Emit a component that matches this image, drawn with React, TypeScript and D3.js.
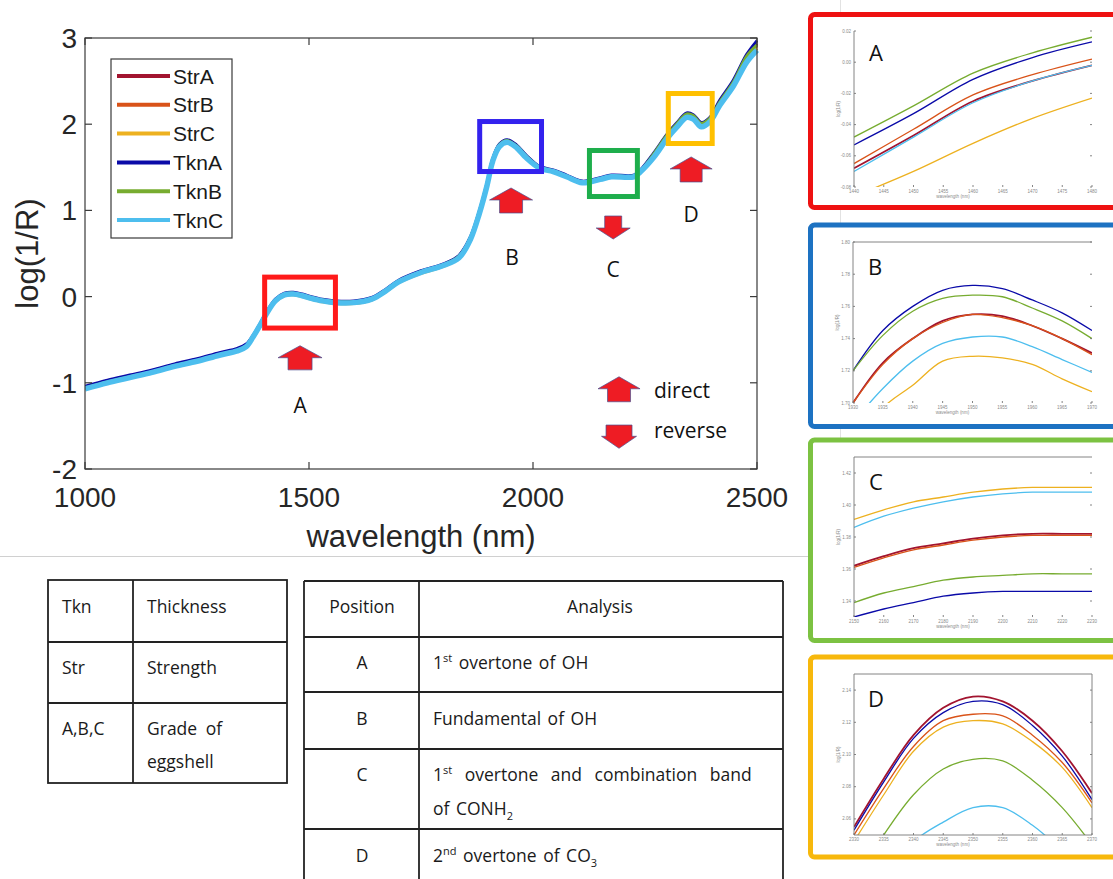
import React from "react";
import * as d3 from "d3";

// ---- main NIR spectra (log(1/R) versus wavelength) ----
const wavelengths = [
  1000, 1050, 1100, 1150, 1200, 1250, 1300, 1340, 1360, 1375, 1390, 1405, 1425, 1445, 1465, 1485,
  1505, 1530, 1560, 1600, 1640, 1670, 1700, 1750, 1800, 1835, 1860, 1880, 1897, 1910, 1925, 1942,
  1963, 1985, 2015, 2045, 2075, 2110, 2150, 2175, 2225, 2240, 2270, 2300, 2320, 2343, 2358, 2376,
  2395, 2417, 2447, 2477, 2500,
];

const strA = [
  -1.05, -0.98, -0.92, -0.86, -0.79, -0.73, -0.66, -0.61, -0.56, -0.46, -0.33, -0.19, -0.04, 0.03, 0.04, 0.02,
  -0.01, -0.04, -0.06, -0.06, -0.02, 0.07, 0.18, 0.29, 0.37, 0.47, 0.68, 0.98, 1.3, 1.59, 1.76, 1.81,
  1.75, 1.63, 1.5, 1.46, 1.4, 1.33, 1.37, 1.4, 1.4, 1.46, 1.65, 1.87, 1.99, 2.11, 2.09, 2.0,
  2.06, 2.25, 2.48, 2.77, 2.93,
];
const strB = [
  -1.05, -0.98, -0.92, -0.86, -0.79, -0.73, -0.66, -0.61, -0.56, -0.47, -0.34, -0.2, -0.05, 0.02, 0.03, 0.01,
  -0.02, -0.05, -0.07, -0.07, -0.03, 0.06, 0.17, 0.28, 0.36, 0.46, 0.67, 0.97, 1.29, 1.58, 1.75, 1.8,
  1.74, 1.62, 1.49, 1.45, 1.39, 1.32, 1.36, 1.39, 1.39, 1.45, 1.64, 1.86, 1.98, 2.1, 2.08, 1.99,
  2.05, 2.24, 2.47, 2.76, 2.91,
];
const strC = [
  -1.06, -0.99, -0.93, -0.87, -0.8, -0.74, -0.67, -0.62, -0.57, -0.48, -0.35, -0.21, -0.06, 0.01, 0.02, 0.0,
  -0.03, -0.06, -0.08, -0.08, -0.04, 0.05, 0.16, 0.27, 0.35, 0.45, 0.66, 0.96, 1.28, 1.57, 1.74, 1.79,
  1.73, 1.61, 1.5, 1.46, 1.4, 1.33, 1.37, 1.4, 1.4, 1.46, 1.63, 1.85, 1.97, 2.09, 2.07, 1.98,
  2.04, 2.23, 2.45, 2.74, 2.88,
];
const tknA = [
  -1.04, -0.97, -0.91, -0.85, -0.78, -0.72, -0.65, -0.6, -0.55, -0.45, -0.32, -0.18, -0.03, 0.04, 0.05, 0.03,
  0.0, -0.03, -0.05, -0.05, -0.01, 0.08, 0.19, 0.3, 0.38, 0.48, 0.69, 0.99, 1.31, 1.6, 1.77, 1.82,
  1.76, 1.64, 1.51, 1.47, 1.41, 1.34, 1.38, 1.41, 1.41, 1.47, 1.67, 1.89, 2.01, 2.13, 2.11, 2.02,
  2.08, 2.28, 2.51, 2.81, 2.97,
];
const tknB = [
  -1.06, -0.99, -0.93, -0.87, -0.8, -0.74, -0.67, -0.62, -0.57, -0.46, -0.33, -0.19, -0.04, 0.03, 0.04, 0.02,
  -0.01, -0.04, -0.06, -0.06, -0.02, 0.07, 0.18, 0.29, 0.37, 0.47, 0.68, 0.98, 1.3, 1.59, 1.76, 1.81,
  1.75, 1.63, 1.5, 1.46, 1.4, 1.33, 1.37, 1.4, 1.4, 1.46, 1.66, 1.88, 2.0, 2.12, 2.1, 2.01,
  2.07, 2.26, 2.49, 2.79, 2.92,
];
const tknC = [
  -1.07, -1.0, -0.94, -0.88, -0.81, -0.75, -0.68, -0.63, -0.58, -0.47, -0.34, -0.2, -0.05, 0.02, 0.03, 0.01,
  -0.02, -0.05, -0.07, -0.07, -0.03, 0.06, 0.17, 0.28, 0.36, 0.45, 0.66, 0.96, 1.28, 1.57, 1.74, 1.79,
  1.73, 1.61, 1.49, 1.45, 1.39, 1.32, 1.36, 1.39, 1.39, 1.45, 1.62, 1.84, 1.96, 2.08, 2.06, 1.97,
  2.03, 2.22, 2.44, 2.72, 2.86,
];

const seriesNames = ["StrA", "StrB", "StrC", "TknA", "TknB", "TknC"];
const seriesColors = ["#a2142f", "#d95319", "#edb120", "#0a0aa8", "#77ac30", "#4dbeee"];
const seriesValues = [strA, strB, strC, tknA, tknB, tknC];

const xTicks = [1000, 1500, 2000, 2500];
const yTicks = [-2, -1, 0, 1, 2, 3];

// ---- zoomed band views (A-D) ----
const insetAWave = [1440, 1450, 1460, 1470, 1480];
const insetAValues = [
  [-0.068, -0.047, -0.025, -0.012, -0.002],
  [-0.065, -0.043, -0.021, -0.008, 0.002],
  [-0.086, -0.07, -0.052, -0.036, -0.023],
  [-0.053, -0.033, -0.011, 0.003, 0.013],
  [-0.048, -0.028, -0.007, 0.006, 0.016],
  [-0.07, -0.048, -0.026, -0.012, -0.002],
];
const insetBWave = [1930, 1935, 1940, 1945, 1950, 1955, 1960, 1965, 1970];
const insetBValues = [
  [1.7, 1.725, 1.74, 1.751, 1.755, 1.754, 1.748, 1.74, 1.731],
  [1.7, 1.724, 1.74, 1.75, 1.755, 1.753, 1.748, 1.74, 1.73],
  [1.67, 1.697, 1.711, 1.726, 1.729, 1.728, 1.724, 1.715, 1.707],
  [1.72, 1.745, 1.76, 1.77, 1.773, 1.771, 1.764, 1.756, 1.745],
  [1.72, 1.742, 1.757, 1.765, 1.767, 1.766, 1.759, 1.751, 1.74],
  [1.688, 1.709, 1.726, 1.737, 1.741, 1.741, 1.735, 1.727, 1.719],
];
const insetCWave = [2150, 2160, 2170, 2180, 2190, 2200, 2210, 2220, 2230];
const insetCValues = [
  [1.362, 1.368, 1.373, 1.376, 1.379, 1.381, 1.382, 1.382, 1.382],
  [1.361, 1.367, 1.372, 1.375, 1.378, 1.38, 1.381, 1.381, 1.381],
  [1.391, 1.397, 1.402, 1.405, 1.408, 1.41, 1.411, 1.411, 1.411],
  [1.33, 1.335, 1.339, 1.343, 1.345, 1.346, 1.346, 1.346, 1.346],
  [1.339, 1.345, 1.349, 1.353, 1.355, 1.356, 1.357, 1.357, 1.357],
  [1.386, 1.393, 1.398, 1.402, 1.405, 1.407, 1.408, 1.408, 1.408],
];
const insetDWave = [2330, 2335, 2340, 2345, 2350, 2355, 2360, 2365, 2370];
const insetDValues = [
  [2.055, 2.085, 2.112, 2.129, 2.136, 2.133, 2.121, 2.102, 2.076],
  [2.05, 2.079, 2.105, 2.121, 2.125, 2.124, 2.112, 2.095, 2.07],
  [2.046, 2.075, 2.102, 2.117, 2.121, 2.119, 2.108, 2.092, 2.067],
  [2.053, 2.083, 2.11, 2.126, 2.133, 2.131, 2.118, 2.099, 2.072],
  [2.02, 2.05, 2.075, 2.091, 2.097, 2.096, 2.084, 2.067, 2.044],
  [2.0, 2.025, 2.046, 2.058, 2.067, 2.067, 2.056, 2.04, 2.02],
];
const insetLetters = ["A", "B", "C", "D"];
const insetBorderColors = ["#ee1111", "#1d72c2", "#7cc242", "#f7b80c"];

// band boxes on the main spectrum: [wl0, wl1, v0, v1]
const bandBoxes = [
  [1401, 1559, 0.226, -0.365],
  [1881, 2019, 2.031, 1.451],
  [2126, 2233, 1.695, 1.161],
  [2302, 2400, 2.356, 1.776],
];
const bandBoxColors = ["#ff1a1a", "#3322ee", "#1eae4c", "#ffc000"];

// ---- tables ----
const termRows = [
  ["Tkn", "Thickness"],
  ["Str", "Strength"],
  ["A,B,C", "Grade of", "eggshell"],
];
const positionLabels = ["A", "B", "C", "D"];

const W = 1113;
const H = 879;
const FONT_AXIS = "'Liberation Sans', Arial, Helvetica, sans-serif";
const FONT_NOTE = "'Open Sans', 'Noto Sans', sans-serif";

function arrowPath(cx: number, top: number, bottom: number, headW: number, shaftW: number, headH: number, up: boolean) {
  if (up) {
    const hb = top + headH;
    return `M${cx},${top}L${cx + headW / 2},${hb}L${cx + shaftW / 2},${hb}L${cx + shaftW / 2},${bottom}L${cx - shaftW / 2},${bottom}L${cx - shaftW / 2},${hb}L${cx - headW / 2},${hb}Z`;
  }
  const hb = bottom - headH;
  return `M${cx},${bottom}L${cx + headW / 2},${hb}L${cx + shaftW / 2},${hb}L${cx + shaftW / 2},${top}L${cx - shaftW / 2},${top}L${cx - shaftW / 2},${hb}L${cx - headW / 2},${hb}Z`;
}

type InsetProps = {
  idx: number;
  waves: number[];
  values: number[][];
  domain: [number, number];
  frame: { left: number; right: number; top: number; bottom: number };
  box: { x: number; y: number; h: number };
  sides: string;
};

function Inset({ idx, waves, values, domain, frame, box, sides }: InsetProps) {
  const x = d3.scaleLinear().domain(d3.extent(waves) as [number, number]).range([frame.left, frame.right]);
  const y = d3.scaleLinear().domain(domain).range([frame.bottom, frame.top]);
  const line = d3
    .line<number>()
    .x((_, i) => x(waves[i]))
    .y((d) => y(d))
    .curve(d3.curveCatmullRom.alpha(0.5));
  const clipId = `inset-clip-${idx}`;
  const yt = y.ticks(6);
  const xt = x.ticks(8);
  return (
    <g>
      <rect x={box.x} y={box.y} width={W - box.x + 10} height={box.h} rx={4} fill="#ffffff"
        stroke={insetBorderColors[idx]} strokeWidth={5} />
      <defs>
        <clipPath id={clipId}>
          <rect x={frame.left} y={frame.top} width={frame.right - frame.left} height={frame.bottom - frame.top} />
        </clipPath>
      </defs>
      <g clipPath={`url(#${clipId})`}>
        {values.map((vals, s) => (
          <path key={s} d={line(vals) || ""} fill="none" stroke={seriesColors[s]}
            strokeWidth={s === 0 ? 1.8 : 1.3} />
        ))}
      </g>
      <g stroke="#777" strokeWidth={0.9} fill="none">
        {sides.includes("l") && <line x1={frame.left} x2={frame.left} y1={frame.top} y2={frame.bottom} />}
        {sides.includes("t") && <line x1={frame.left} x2={frame.right} y1={frame.top} y2={frame.top} />}
        {sides.includes("r") && <line x1={frame.right} x2={frame.right} y1={frame.top} y2={frame.bottom} />}
        {sides.includes("b") && <line x1={frame.left} x2={frame.right} y1={frame.bottom} y2={frame.bottom} />}
        {yt.map((t) => (
          <line key={`yl${t}`} x1={frame.left} x2={frame.left + 2} y1={y(t)} y2={y(t)} />
        ))}
        {yt.map((t) => (
          <line key={`yr${t}`} x1={frame.right - 2} x2={frame.right} y1={y(t)} y2={y(t)} />
        ))}
        {xt.map((t) => (
          <line key={`xb${t}`} x1={x(t)} x2={x(t)} y1={frame.bottom - 2} y2={frame.bottom} />
        ))}
      </g>
      <g fill="#8a8a8a" fontFamily={FONT_AXIS} fontSize={4.5}>
        {yt.map((t) => (
          <text key={`ytl${t}`} x={frame.left - 3} y={y(t) + 1.5} textAnchor="end">
            {t.toFixed(2)}
          </text>
        ))}
        {xt.map((t) => (
          <text key={`xtl${t}`} x={x(t)} y={frame.bottom + 6} textAnchor="middle">
            {t}
          </text>
        ))}
        <text x={(frame.left + frame.right) / 2 - 20} y={frame.bottom + 11} textAnchor="middle">
          wavelength (nm)
        </text>
        <text transform={`translate(${frame.left - 14},${(frame.top + frame.bottom) / 2}) rotate(-90)`} textAnchor="middle">
          log(1/R)
        </text>
      </g>
      <text x={frame.left + 22} y={frame.top + (idx === 0 ? 30 : 33)} textAnchor="middle"
        fontFamily={FONT_NOTE} fontSize={22} fill="#111">
        {insetLetters[idx]}
      </text>
    </g>
  );
}

export default function App() {
  const x = d3.scaleLinear().domain([1000, 2500]).range([85, 757]);
  const y = d3.scaleLinear().domain([-2, 3]).range([469, 38]);
  const line = d3
    .line<number>()
    .x((_, i) => x(wavelengths[i]))
    .y((d) => y(d))
    .curve(d3.curveCatmullRom.alpha(0.5));

  const [x0, x1] = x.range();
  const [y0, y1] = y.range();
  const axisColor = "#3a3a3a";

  const legendRowY = (i: number) => 76 + i * 28.8;

  return (
    <svg width={W} height={H} viewBox={`0 0 ${W} ${H}`}
      style={{ position: "absolute", left: 0, top: 0, background: "#ffffff" }}>
      <rect x={0} y={0} width={W} height={H} fill="#ffffff" />

      {/* slide separator lines */}
      <line x1={0} x2={843} y1={556.5} y2={556.5} stroke="#d0d0d0" strokeWidth={1.2} />
      <line x1={840.5} x2={840.5} y1={0} y2={556} stroke="#e2e2e2" strokeWidth={1} />

      {/* main spectrum */}
      <defs>
        <clipPath id="main-clip">
          <rect x={x0} y={y1 - 4} width={x1 - x0 + 2} height={y0 - y1 + 4} />
        </clipPath>
      </defs>
      <g clipPath="url(#main-clip)">
        {seriesValues.map((vals, s) => (
          <path key={seriesNames[s]} d={line(vals) || ""} fill="none" stroke={seriesColors[s]}
            strokeWidth={s === 5 ? 5.5 : 3} strokeLinejoin="round" />
        ))}
      </g>

      {/* axes frame and ticks */}
      <rect x={x0} y={y1} width={x1 - x0} height={y0 - y1} fill="none" stroke={axisColor} strokeWidth={1.2} />
      <g stroke={axisColor} strokeWidth={1.2}>
        {xTicks.map((t) => (
          <g key={`xt${t}`}>
            <line x1={x(t)} x2={x(t)} y1={y0} y2={y0 - 7} />
            <line x1={x(t)} x2={x(t)} y1={y1} y2={y1 + 7} />
          </g>
        ))}
        {yTicks.map((t) => (
          <g key={`yt${t}`}>
            <line x1={x0} x2={x0 + 7} y1={y(t)} y2={y(t)} />
            <line x1={x1} x2={x1 - 7} y1={y(t)} y2={y(t)} />
          </g>
        ))}
      </g>
      <g fontFamily={FONT_AXIS} fontSize={28} fill="#262626">
        {xTicks.map((t) => (
          <text key={`xl${t}`} x={x(t)} y={y0 + 38} textAnchor="middle">
            {t}
          </text>
        ))}
        {yTicks.map((t) => (
          <text key={`yl${t}`} x={x0 - 8} y={y(t) + 10} textAnchor="end">
            {t}
          </text>
        ))}
        <text x={(x0 + x1) / 2} y={547} textAnchor="middle" fontSize={31}>
          wavelength (nm)
        </text>
        <text transform={`translate(38,${(y0 + y1) / 2}) rotate(-90)`} textAnchor="middle" fontSize={31}>
          log(1/R)
        </text>
      </g>

      {/* legend */}
      <rect x={111} y={59} width={121} height={179} fill="#ffffff" stroke={axisColor} strokeWidth={1.2} />
      {seriesNames.map((name, i) => (
        <g key={`lg${name}`}>
          <line x1={117} x2={170} y1={legendRowY(i)} y2={legendRowY(i)} stroke={seriesColors[i]} strokeWidth={4} />
          <text x={173} y={legendRowY(i) + 7.5} fontFamily={FONT_AXIS} fontSize={21} fill="#1a1a1a">
            {name}
          </text>
        </g>
      ))}

      {/* band boxes */}
      {bandBoxes.map(([w0, w1, v0, v1], i) => (
        <rect key={`bb${i}`} x={x(w0)} y={y(v0)} width={x(w1) - x(w0)} height={y(v1) - y(v0)}
          fill="none" stroke={bandBoxColors[i]} strokeWidth={5} />
      ))}

      {/* direction arrows */}
      <g fill="#ee1c24" stroke="#4b4f8f" strokeWidth={0.7}>
        <path d={arrowPath(x(1480), y(-0.57), y(-0.85), 44, 24, 12, true)} />
        <path d={arrowPath(x(1951), y(1.26), y(0.97), 43, 23, 12, true)} />
        <path d={arrowPath(x(2353), y(1.62), y(1.33), 42, 22, 12, true)} />
        <path d={arrowPath(x(2179), y(0.935), y(0.668), 34, 17, 11, false)} />
        <path d={arrowPath(x(2192), y(-0.93), y(-1.22), 42, 23, 12, true)} />
        <path d={arrowPath(x(2192), y(-1.49), y(-1.76), 35, 26, 12, false)} />
      </g>
      <g fontFamily={FONT_NOTE} fontSize={21} fill="#111">
        <text x={x(1480)} y={y(-1.35)} textAnchor="middle">A</text>
        <text x={x(1953)} y={y(0.367)} textAnchor="middle">B</text>
        <text x={x(2179)} y={y(0.228)} textAnchor="middle">C</text>
        <text x={x(2353)} y={y(0.865)} textAnchor="middle">D</text>
        <text x={x(2270)} y={y(-1.176)}>direct</text>
        <text x={x(2270)} y={y(-1.64)}>reverse</text>
      </g>

      {/* zoomed band panels */}
      <Inset idx={0} waves={insetAWave} values={insetAValues} domain={[-0.08, 0.02]}
        frame={{ left: 854, right: 1092, top: 31, bottom: 187 }} box={{ x: 810.5, y: 14.5, h: 193 }} sides="l" />
      <Inset idx={1} waves={insetBWave} values={insetBValues} domain={[1.7, 1.8]}
        frame={{ left: 853, right: 1092, top: 242, bottom: 403 }} box={{ x: 810.5, y: 225, h: 201.5 }} sides="lt" />
      <Inset idx={2} waves={insetCWave} values={insetCValues} domain={[1.33, 1.43]}
        frame={{ left: 854, right: 1092, top: 457, bottom: 617 }} box={{ x: 810.5, y: 440, h: 200.5 }} sides="lt" />
      <Inset idx={3} waves={insetDWave} values={insetDValues} domain={[2.05, 2.15]}
        frame={{ left: 854, right: 1092, top: 674, bottom: 835 }} box={{ x: 810.5, y: 657, h: 200 }} sides="ltrb" />

      {/* abbreviation table */}
      <g stroke="#222" strokeWidth={1.8} fill="none">
        <rect x={48} y={580} width={239} height={203} />
        <line x1={133} x2={133} y1={580} y2={783} />
        <line x1={48} x2={287} y1={642} y2={642} />
        <line x1={48} x2={287} y1={703} y2={703} />
      </g>
      <g fontFamily={FONT_NOTE} fontSize={17.5} fill="#1a1a1a">
        <text x={62} y={613}>{termRows[0][0]}</text>
        <text x={147} y={613}>{termRows[0][1]}</text>
        <text x={62} y={674}>{termRows[1][0]}</text>
        <text x={147} y={674}>{termRows[1][1]}</text>
        <text x={62} y={735}>{termRows[2][0]}</text>
        <text x={147} y={735} wordSpacing={4}>{termRows[2][1]}</text>
        <text x={147} y={768}>{termRows[2][2]}</text>
      </g>

      {/* band assignment table */}
      <g stroke="#222" strokeWidth={1.8} fill="none">
        <line x1={304} x2={783} y1={581} y2={581} />
        <line x1={304} x2={304} y1={581} y2={885} />
        <line x1={783} x2={783} y1={581} y2={885} />
        <line x1={419} x2={419} y1={581} y2={885} />
        {[637, 692, 749, 829].map((ry) => (
          <line key={`tr${ry}`} x1={304} x2={783} y1={ry} y2={ry} />
        ))}
      </g>
      <g fontFamily={FONT_NOTE} fontSize={17.5} fill="#1a1a1a">
        <text x={362} y={613} textAnchor="middle">Position</text>
        <text x={600} y={613} textAnchor="middle">Analysis</text>
        {positionLabels.map((p, i) => (
          <text key={`pl${p}`} x={362} y={[669, 725, 781, 862][i]} textAnchor="middle">
            {p}
          </text>
        ))}
        <text x={433} y={669} wordSpacing={2}>
          1<tspan fontSize={11} dy={-7}>st</tspan>
          <tspan dy={7}> overtone of OH</tspan>
        </text>
        <text x={433} y={725} wordSpacing={2}>Fundamental of OH</text>
        <text x={433} y={781} wordSpacing={8}>
          1<tspan fontSize={11} dy={-7}>st</tspan>
          <tspan dy={7}> overtone and combination band</tspan>
        </text>
        <text x={433} y={815} wordSpacing={2}>
          of CONH<tspan fontSize={11} dy={5}>2</tspan>
        </text>
        <text x={433} y={862} wordSpacing={2}>
          2<tspan fontSize={11} dy={-7}>nd</tspan>
          <tspan dy={7}> overtone of CO</tspan>
          <tspan fontSize={11} dy={5}>3</tspan>
        </text>
      </g>
    </svg>
  );
}
